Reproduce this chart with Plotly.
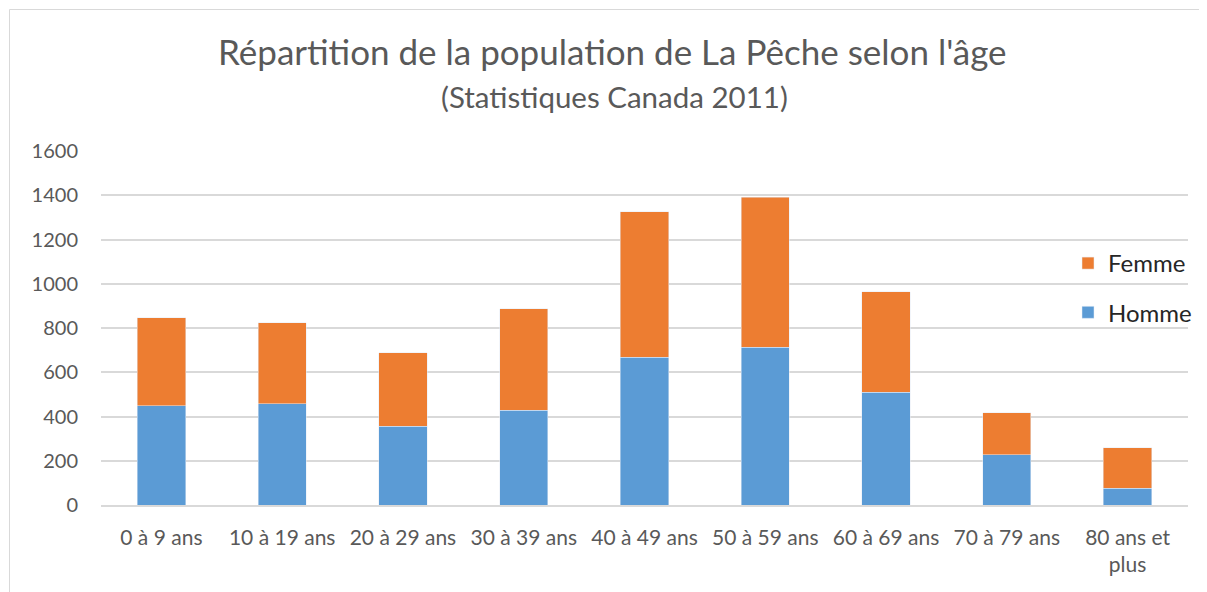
import plotly.graph_objects as go

categories = ["0 à 9 ans", "10 à 19 ans", "20 à 29 ans", "30 à 39 ans", "40 à 49 ans",
              "50 à 59 ans", "60 à 69 ans", "70 à 79 ans", "80 ans et<br>plus"]
homme = [449, 458, 355, 428, 668, 713, 509, 228, 75]
femme = [398, 365, 333, 460, 657, 679, 454, 190, 183]
y_ticks = [0, 200, 400, 600, 800, 1000, 1200, 1400, 1600]

OFF = 8  # page body margin
W, H = 1207 - OFF, 592 - OFF
# plot area in page pixels: x 101..1188, y 151..505
L, R, T, B = 101 - OFF, W - (1188 - OFF), 151 - OFF, H - (505 - OFF)
pw, ph = W - L - R, H - T - B

def px_x(p):
    return (p - OFF - L) / pw

def px_y(p):
    return (H - B - (p - OFF)) / ph

FONT = "Lato"
GREY = "#595959"

fig = go.Figure()
fig.add_trace(go.Bar(x=categories, y=homme, name="Homme", marker_color="#5B9BD5",
                     legendgroup="h", legendrank=2))
fig.add_trace(go.Bar(x=categories, y=femme, name="Femme", marker_color="#ED7D31",
                     legendgroup="f", legendrank=1))

fig.update_layout(
    width=W, height=H,
    margin=dict(l=L, r=R, t=T, b=B, autoexpand=False),
    barmode="stack",
    bargap=0.6,
    paper_bgcolor="white",
    plot_bgcolor="white",
    font=dict(family=FONT, color=GREY),
    annotations=[
        dict(text="Répartition de la population de La Pêche selon l'âge", xref="paper",
             yref="paper", x=px_x(612), y=px_y(51), xanchor="center", yanchor="middle",
             showarrow=False, font=dict(size=35, color=GREY, family=FONT)),
        dict(text="(Statistiques Canada 2011)", xref="paper", yref="paper",
             x=px_x(614), y=px_y(96), xanchor="center", yanchor="middle",
             showarrow=False, font=dict(size=29.5, color=GREY, family=FONT)),
    ],
    legend=dict(x=px_x(1068), y=px_y(241), xanchor="left", yanchor="top",
                traceorder="grouped", tracegroupgap=15,
                font=dict(size=24, color="#262626", family=FONT),
                bgcolor="rgba(0,0,0,0)"),
    xaxis=dict(showgrid=False, showline=True, linecolor="#d9d9d9", linewidth=1.5,
               tickfont=dict(size=21, color=GREY), ticks="outside", ticklen=13,
               tickcolor="rgba(0,0,0,0)", automargin=False),
    yaxis=dict(range=[0, 1600], tickvals=y_ticks, showgrid=True, gridcolor="#d9d9d9",
               gridwidth=1.5, zeroline=False, showline=False,
               tickfont=dict(size=20, color=GREY), ticks="outside", ticklen=18,
               tickcolor="rgba(0,0,0,0)", automargin=False),
    shapes=[
        dict(type="line", xref="paper", yref="paper", x0=px_x(9.5), x1=px_x(1220),
             y0=px_y(9.5), y1=px_y(9.5), line=dict(color="#d9d9d9", width=1)),
        dict(type="line", xref="paper", yref="paper", x0=px_x(9.5), x1=px_x(9.5),
             y0=px_y(9.5), y1=px_y(610), line=dict(color="#d9d9d9", width=1)),
    ],
)

fig.write_html("out.html")
